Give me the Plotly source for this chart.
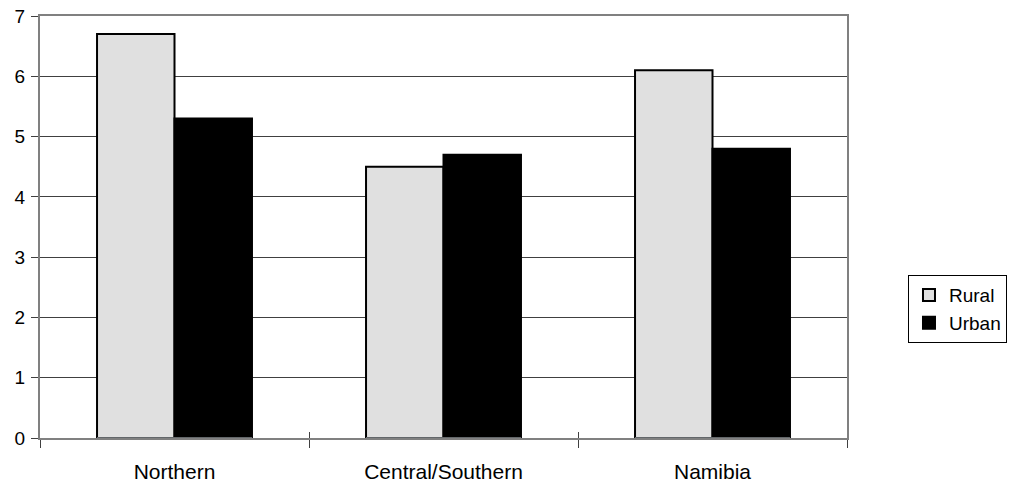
import plotly.graph_objects as go

regions = ["Northern", "Central/Southern", "Namibia"]
rural = [6.7, 4.5, 6.1]
urban = [5.3, 4.7, 4.8]
y_ticks = [0, 1, 2, 3, 4, 5, 6, 7]

font_family = "Liberation Sans, Arial, sans-serif"

fig = go.Figure()
fig.add_trace(go.Bar(
    name="Rural", x=regions, y=rural,
    marker=dict(color="#e0e0e0", line=dict(color="black", width=2)),
))
fig.add_trace(go.Bar(
    name="Urban", x=regions, y=urban,
    marker=dict(color="black", line=dict(color="black", width=2)),
))

# invisible companion axis that draws the upward half of the boundary ticks
fig.add_trace(go.Bar(x=regions, y=[0, 0, 0], xaxis="x2", showlegend=False,
                     hoverinfo="skip", marker=dict(color="rgba(0,0,0,0)")))

fig.update_layout(
    width=1010, height=486,
    margin=dict(l=40, r=163, t=16, b=48, autoexpand=False),
    paper_bgcolor="white", plot_bgcolor="white",
    barmode="group", bargap=0.424, bargroupgap=0,
    font=dict(family=font_family, size=20, color="black"),
    legend=dict(
        xref="container", yref="container",
        x=0.899, y=0.364, xanchor="left", yanchor="middle",
        bordercolor="black", borderwidth=1,
        font=dict(size=19), itemwidth=30, tracegroupgap=0,
    ),
    xaxis=dict(
        showline=True, linecolor="#808080", linewidth=2, mirror=True,
        ticks="outside", tickson="boundaries", ticklen=8, tickcolor="#404040",
        tickwidth=1, showgrid=False, ticklabelstandoff=14,
        tickfont=dict(size=21), automargin=False,
    ),
    xaxis2=dict(
        overlaying="x", matches="x", side="bottom", showline=False,
        ticks="inside", tickson="boundaries", ticklen=6, tickcolor="#404040",
        showticklabels=False, showgrid=False, automargin=False,
    ),
    yaxis=dict(
        range=[0, 7], tickvals=y_ticks, showline=True, linecolor="#808080",
        linewidth=2, mirror=True, ticks="outside", ticklen=7,
        tickcolor="#404040", showgrid=True, gridcolor="#404040", gridwidth=1,
        zeroline=False, ticklabelstandoff=2, tickfont=dict(size=19),
        automargin=False,
    ),
)

fig.write_html("out.html")
